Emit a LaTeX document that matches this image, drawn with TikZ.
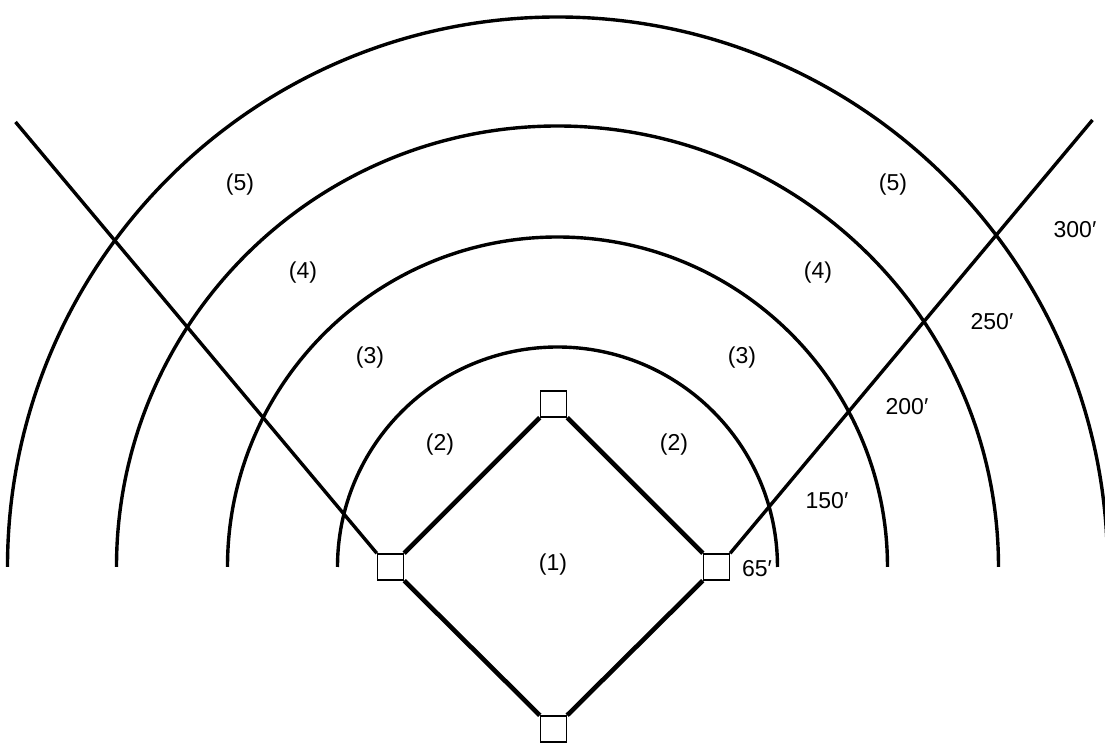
\documentclass[tikz,border=0pt]{standalone}
\usepackage{fontspec}
\setmainfont{Liberation Sans}
\begin{document}
\begin{tikzpicture}[x=0.5pt,y=0.5pt,
        base/.style={
            draw,
            line width=0.7pt,
            fill=white,
            minimum size=13pt,
            inner sep=0pt
        },
        field/.style={line width=1.7pt},
        path/.style={line width=2.3pt},
        zone/.style={font=\fontsize{11.5}{13}\selectfont, inner sep=1pt}
    ]
        \useasboundingbox (-557.5,-176) rectangle (547.5,567);
        \coordinate (centre) at (0,0);

        % Archi delle distanze
        \foreach \r in {220,330,441,550} {
            \draw[field] (centre) ++(\r,0) arc[start angle=0, end angle=180, radius=\r];
        }

        % Basi
        \node[base] (third) at (-167,0) {};
        \node[base] (first) at (159,0) {};
        \node[base] (second) at (-4,163) {};
        \node[base] (home) at (-4,-162) {};

        % Linee di foul
        \coordinate (leftend) at (-542,445);
        \coordinate (rightend) at (535,447);
        \draw[field] (third.north west) -- (leftend);
        \draw[field] (first.north east) -- (rightend);

        % Diamante
        \draw[path] (third.north east) -- (second.south west);
        \draw[path] (second.south east) -- (first.north west);
        \draw[path] (first.south west) -- (home.north east);
        \draw[path] (home.north west) -- (third.south east);

        % Zone
        \foreach \txt/\x/\y [count=\i] in {(1)/-4.5/2, (2)/-117.5/122, (2)/116.5/122,
                (3)/-187.5/209, (3)/184.5/209, (4)/-254.5/294, (4)/260.5/294,
                (5)/-317.5/382, (5)/335.5/382} {
            \node[zone] (zone\i) at (\x,\y) {\txt};
        }

        % Distanze
        \foreach \txt/\x/\y [count=\i] in {65′/199.5/-2, 150′/269.5/66, 200′/349.5/160,
                250′/434.5/245, 300′/517.5/337} {
            \node[zone] (dist\i) at (\x,\y) {\txt};
        }
    \end{tikzpicture}
\end{document}
